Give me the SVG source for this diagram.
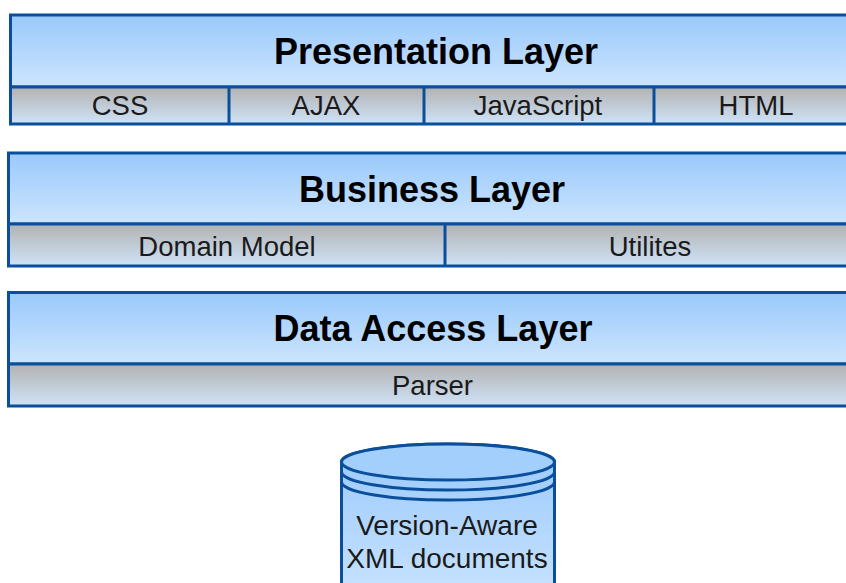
<svg xmlns="http://www.w3.org/2000/svg" width="846" height="583" viewBox="0 0 846 583">
<defs>
<linearGradient id="hdr" x1="0" y1="0" x2="0" y2="1"><stop offset="0" stop-color="#99c9fb"/><stop offset="1" stop-color="#cde5fe"/></linearGradient>
<linearGradient id="sub" x1="0" y1="0" x2="0" y2="1"><stop offset="0" stop-color="#b2b2b2"/><stop offset="1" stop-color="#cfe3f8"/></linearGradient>
<linearGradient id="cyl" x1="0" y1="0" x2="0" y2="1"><stop offset="0" stop-color="#99c9fb"/><stop offset="1" stop-color="#c9e3fe"/></linearGradient>
<style>
.h{fill:url(#hdr);stroke:#0a4f9c;stroke-width:3}
.s{fill:url(#sub);stroke:#0a4f9c;stroke-width:3}
.d{stroke:#0a4f9c;stroke-width:3;fill:none}
.t{font-family:"Liberation Sans",Arial,sans-serif;font-weight:bold;font-size:36px;fill:#000;text-anchor:middle}
.u{font-family:"Liberation Sans",Arial,sans-serif;font-size:27.5px;fill:#1a1a1a;text-anchor:middle}
.c{font-family:"Liberation Sans",Arial,sans-serif;font-size:28px;fill:#1a1a1a;text-anchor:middle}
</style>
</defs>
<g id="presentation">
<rect class="h" x="10.5" y="15" width="852" height="72"/>
<rect class="s" x="10.5" y="87" width="852" height="37"/>
<line class="d" x1="229" y1="87" x2="229" y2="124"/>
<line class="d" x1="424" y1="87" x2="424" y2="124"/>
<line class="d" x1="654" y1="87" x2="654" y2="124"/>
<text class="t" x="436" y="64">Presentation Layer</text>
<text class="u" x="120" y="114.5">CSS</text>
<text class="u" x="326" y="114.5">AJAX</text>
<text class="u" x="538" y="114.5">JavaScript</text>
<text class="u" x="756" y="114.5">HTML</text>
</g>
<g id="business">
<rect class="h" x="8.5" y="153" width="852" height="71"/>
<rect class="s" x="8.5" y="224" width="852" height="42"/>
<line class="d" x1="445" y1="224" x2="445" y2="266"/>
<text class="t" x="432" y="201.5">Business Layer</text>
<text class="u" x="227" y="255.5">Domain Model</text>
<text class="u" x="650" y="255.5">Utilites</text>
</g>
<g id="dataaccess">
<rect class="h" x="8.5" y="292.5" width="852" height="71.5"/>
<rect class="s" x="8.5" y="364" width="852" height="42"/>
<text class="t" x="433" y="341">Data Access Layer</text>
<text class="u" x="432.5" y="394.5">Parser</text>
</g>
<g id="xmldocs">
<path d="M341.5,462 L341.5,600 L554.5,600 L554.5,462 A106.5,18 0 0 0 341.5,462 Z" fill="url(#cyl)" stroke="#0a4f9c" stroke-width="3"/>
<ellipse cx="448" cy="462" rx="106.5" ry="18" fill="#a3cffc" stroke="#0a4f9c" stroke-width="3"/>
<path class="d" d="M341.5,472 A106.5,18 0 0 0 554.5,472"/>
<path class="d" d="M341.5,482 A106.5,18 0 0 0 554.5,482"/>
<text class="c" x="447" y="535">Version-Aware</text>
<text class="c" x="447" y="568">XML documents</text>
</g>
<g id="connectors"/>
</svg>
